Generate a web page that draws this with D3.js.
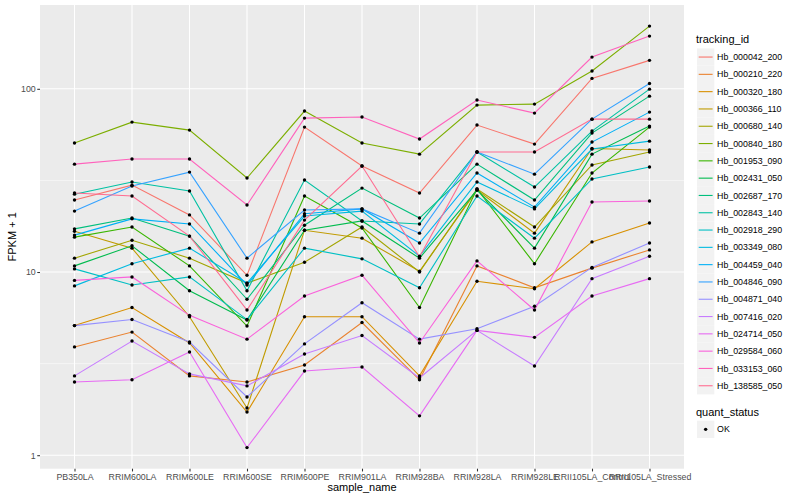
<!DOCTYPE html>
<html>
<head>
<meta charset="utf-8">
<script src="https://cdn.jsdelivr.net/npm/d3@7.9.0/dist/d3.min.js"></script>
<style>
  body { margin: 0; background: #fff; }
  svg { font-family: "Liberation Sans", Arial, Helvetica, sans-serif; }
</style>
</head>
<body>
<svg id="chart" width="800" height="500"></svg>
<script>
// x categories, in plot order
const samples = ['PB350LA', 'RRIM600LA', 'RRIM600LE', 'RRIM600SE', 'RRIM600PE', 'RRIM901LA',
  'RRIM928BA', 'RRIM928LA', 'RRIM928LE', 'RRII105LA_Control', 'RRII105LA_Stressed'];

const trackingIds = ['Hb_000042_200', 'Hb_000210_220', 'Hb_000320_180', 'Hb_000366_110', 'Hb_000680_140',
  'Hb_000840_180', 'Hb_001953_090', 'Hb_002431_050', 'Hb_002687_170', 'Hb_002843_140', 'Hb_002918_290',
  'Hb_003349_080', 'Hb_004459_040', 'Hb_004846_090', 'Hb_004871_040', 'Hb_007416_020', 'Hb_024714_050',
  'Hb_029584_060', 'Hb_033153_060', 'Hb_138585_050'];

// FPKM + 1 per sample, one array per gene
const hb_000042_200 = [24.7, 29.8, 20.5, 9.6, 61.8, 37.9, 27.0, 63.4, 49.9, 114, 143];
const hb_000210_220 = [3.9, 4.7, 2.71, 2.51, 3.11, 5.3, 2.58, 10.8, 8.2, 10.5, 13.2];
const hb_000320_180 = [5.1, 6.4, 4.1, 1.72, 5.7, 5.7, 2.71, 8.9, 8.1, 14.6, 18.5];
const hb_000366_110 = [16.7, 13.5, 5.7, 1.81, 16.9, 15.3, 10.1, 28.0, 16.3, 47.2, 46.3];
const hb_000680_140 = [11.9, 14.9, 11.9, 8.7, 11.3, 17.6, 10.0, 28.4, 17.6, 38.4, 45.2];
const hb_000840_180 = [50.6, 65.8, 59.5, 32.6, 75.6, 50.6, 44.0, 81.5, 82.5, 125, 220];
const hb_001953_090 = [15.5, 17.6, 10.8, 5.07, 26.0, 17.4, 6.4, 28.4, 11.1, 34.7, 61.8];
const hb_002431_050 = [10.8, 13.9, 7.9, 5.47, 16.9, 19.0, 11.9, 28.0, 13.5, 44.0, 62.6];
const hb_002687_170 = [17.2, 19.7, 15.7, 7.1, 18.0, 28.7, 19.7, 38.8, 24.7, 57.3, 91.2];
const hb_002843_140 = [26.6, 31.0, 27.7, 7.9, 31.8, 19.0, 18.3, 45.2, 29.1, 58.8, 99.6];
const hb_002918_290 = [10.4, 8.5, 9.4, 5.5, 13.5, 11.8, 8.2, 26.0, 15.3, 32.2, 37.4];
const hb_003349_080 = [8.4, 11.1, 13.5, 8.7, 20.2, 21.5, 12.2, 31.0, 22.1, 46.9, 51.8];
const hb_004459_040 = [15.9, 19.5, 18.3, 8.5, 20.8, 22.1, 14.4, 34.7, 22.6, 51.2, 74.6];
const hb_004846_090 = [21.5, 29.5, 35.1, 11.9, 21.8, 22.1, 16.3, 45.2, 34.2, 68.3, 107];
const hb_004871_040 = [5.1, 5.5, 4.15, 2.08, 4.05, 6.8, 4.3, 4.9, 6.5, 10.6, 14.4];
const hb_007416_020 = [2.71, 4.2, 2.78, 2.39, 3.57, 4.5, 2.64, 4.8, 3.07, 9.2, 12.2];
const hb_024714_050 = [2.51, 2.58, 3.66, 1.10, 2.88, 3.03, 1.64, 4.8, 4.4, 7.4, 9.2];
const hb_029584_060 = [9.0, 9.4, 5.8, 4.3, 7.4, 9.6, 4.1, 11.5, 6.2, 24.1, 24.4];
const hb_033153_060 = [38.8, 41.4, 41.4, 23.2, 69.2, 70.1, 53.2, 86.8, 73.7, 149, 194];
const hb_138585_050 = [27.0, 26.0, 15.7, 6.2, 19.2, 37.9, 12.1, 45.2, 45.2, 68.3, 68.3];

const yTicks = [1, 10, 100];

// ggplot default hue palette for 20 levels
const palette = ['#F8766D', '#EA8331', '#D89000', '#C09B00', '#A3A500', '#7CAE00', '#39B600', '#00BB4E',
  '#00BF7D', '#00C1A3', '#00BFC4', '#00BAE0', '#00B0F6', '#35A2FF', '#9590FF', '#C77CFF', '#E76BF3',
  '#FA62DB', '#FF62BC', '#FF6C91'];

const seriesValues = [hb_000042_200, hb_000210_220, hb_000320_180, hb_000366_110, hb_000680_140,
  hb_000840_180, hb_001953_090, hb_002431_050, hb_002687_170, hb_002843_140, hb_002918_290,
  hb_003349_080, hb_004459_040, hb_004846_090, hb_004871_040, hb_007416_020, hb_024714_050,
  hb_029584_060, hb_033153_060, hb_138585_050];

const series = trackingIds.map((id, i) => ({
  id: id,
  values: samples.map((s, j) => ({ sample: s, value: seriesValues[i][j] }))
}));

const svg = d3.select('#chart');

// panel
const panel = { left: 40, right: 684, top: 5, bottom: 468.7 };

let x = d3.scalePoint().domain(samples).range([panel.left, panel.right]).padding(0.6);

// log scale with ggplot style 5% expansion
let allVals = seriesValues.flat();
let lo = Math.log10(d3.min(allVals)), hi = Math.log10(d3.max(allVals));
let pad = (hi - lo) * 0.05;
let y = d3.scaleLog().domain([10 ** (lo - pad), 10 ** (hi + pad)]).range([panel.bottom, panel.top]);

let color = d3.scaleOrdinal().domain(trackingIds).range(palette);

svg.append('rect')
  .attr('x', panel.left).attr('y', panel.top)
  .attr('width', panel.right - panel.left).attr('height', panel.bottom - panel.top)
  .attr('fill', '#EBEBEB');

// minor grid (half decades)
let minor = [10 ** 0.5, 10 ** 1.5, 10 ** 2.5].filter(v => y(v) >= panel.top && y(v) <= panel.bottom);
svg.append('g').selectAll('line').data(minor).join('line')
  .attr('x1', panel.left).attr('x2', panel.right)
  .attr('y1', d => y(d)).attr('y2', d => y(d))
  .attr('stroke', '#fff').attr('stroke-width', 0.53);

// major grid
svg.append('g').selectAll('line').data(yTicks).join('line')
  .attr('x1', panel.left).attr('x2', panel.right)
  .attr('y1', d => y(d)).attr('y2', d => y(d))
  .attr('stroke', '#fff').attr('stroke-width', 1.07);
svg.append('g').selectAll('line').data(samples).join('line')
  .attr('x1', d => x(d)).attr('x2', d => x(d))
  .attr('y1', panel.top).attr('y2', panel.bottom)
  .attr('stroke', '#fff').attr('stroke-width', 1.07);

// lines
let line = d3.line().x(d => x(d.sample)).y(d => y(d.value));
svg.append('g').selectAll('path').data(series).join('path')
  .attr('d', d => line(d.values))
  .attr('fill', 'none')
  .attr('stroke', d => color(d.id))
  .attr('stroke-width', 1.1);

// points
svg.append('g').selectAll('circle').data(series.flatMap(d => d.values)).join('circle')
  .attr('cx', d => x(d.sample)).attr('cy', d => y(d.value))
  .attr('r', 1.7).attr('fill', '#000');

// axes
let yAxis = svg.append('g').attr('transform', `translate(${panel.left},0)`)
  .call(d3.axisLeft(y).tickValues(yTicks).tickFormat(d3.format('d')).tickSize(2.74).tickPadding(1.5));
let xAxis = svg.append('g').attr('transform', `translate(0,${panel.bottom})`)
  .call(d3.axisBottom(x).tickSize(2.74).tickPadding(2.2));
[yAxis, xAxis].forEach(a => {
  a.select('.domain').remove();
  a.selectAll('.tick line').attr('stroke', '#333333').attr('stroke-width', 1.07);
  a.selectAll('.tick text').attr('fill', '#4D4D4D').attr('font-size', 8.8)
    .attr('font-family', '"Liberation Sans", Arial, sans-serif');
});

// axis titles
svg.append('text')
  .attr('x', (panel.left + panel.right) / 2).attr('y', 491)
  .attr('text-anchor', 'middle').attr('font-size', 11).attr('fill', '#000')
  .text('sample_name');
svg.append('text')
  .attr('transform', `translate(16,${(panel.top + panel.bottom) / 2}) rotate(-90)`)
  .attr('text-anchor', 'middle').attr('font-size', 11).attr('fill', '#000')
  .text('FPKM + 1');

// legend: tracking_id
let legend = svg.append('g');
let keyX = 697, keyW = 17.3, keyTop = 48.4;
legend.append('text').attr('x', 696).attr('y', 43)
  .attr('font-size', 11).text('tracking_id');
let items = legend.selectAll('g.item').data(trackingIds).join('g')
  .attr('class', 'item')
  .attr('transform', (d, i) => `translate(${keyX},${keyTop + i * keyW})`);
items.append('rect').attr('width', keyW).attr('height', keyW).attr('fill', '#F2F2F2');
items.append('line')
  .attr('x1', 1.7).attr('x2', keyW - 1.7)
  .attr('y1', keyW / 2).attr('y2', keyW / 2)
  .attr('stroke', d => color(d)).attr('stroke-width', 1.1);
items.append('text')
  .attr('x', keyW + 2.8).attr('y', keyW / 2 + 3.1)
  .attr('font-size', 8.8).text(d => d);

// legend: quant_status
legend.append('text').attr('x', 696).attr('y', 415.5)
  .attr('font-size', 11).text('quant_status');
let ok = legend.append('g').attr('transform', `translate(${keyX},420.7)`);
ok.append('rect').attr('width', keyW).attr('height', keyW).attr('fill', '#F2F2F2');
ok.append('circle').attr('cx', keyW / 2).attr('cy', keyW / 2).attr('r', 1.7).attr('fill', '#000');
ok.append('text').attr('x', keyW + 2.8).attr('y', keyW / 2 + 3.1)
  .attr('font-size', 8.8).text('OK');
</script>
</body>
</html>
